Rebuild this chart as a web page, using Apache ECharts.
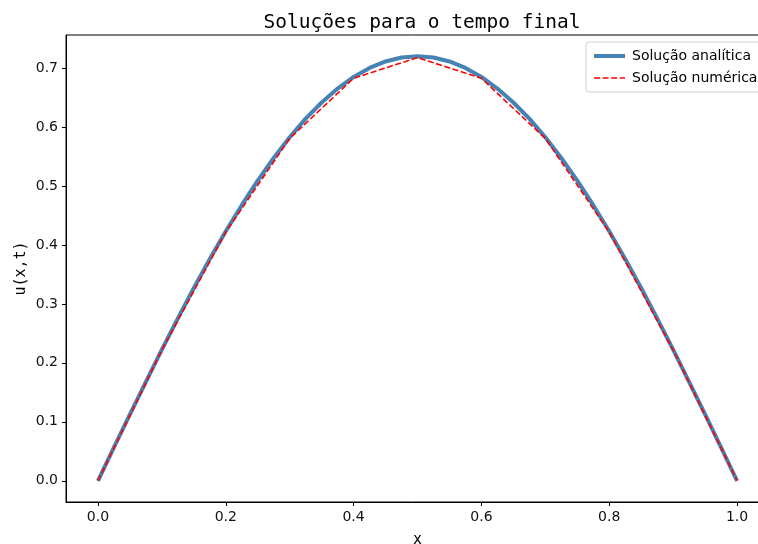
<!DOCTYPE html>
<html>
<head>
<meta charset="utf-8">
<script src="https://cdn.jsdelivr.net/npm/echarts@6/dist/echarts.min.js"></script>
<style>
  html, body { margin: 0; padding: 0; background: #fff; }
  #chart { width: 758px; height: 544px; }
</style>
</head>
<body>
<div id="chart"></div>
<script>
// Analytic solution sampled on a fine grid (x step 0.025)
const xFine = [0, 0.025, 0.05, 0.075, 0.1, 0.125, 0.15, 0.175, 0.2, 0.225, 0.25, 0.275, 0.3, 0.325, 0.35, 0.375, 0.4, 0.425, 0.45, 0.475, 0.5,
  0.525, 0.55, 0.575, 0.6, 0.625, 0.65, 0.675, 0.7, 0.725, 0.75, 0.775, 0.8, 0.825, 0.85, 0.875, 0.9, 0.925, 0.95, 0.975, 1.0];
const uAnalytic = [0, 0.0565, 0.1126, 0.1679, 0.2225, 0.2755, 0.3269, 0.3763, 0.4232, 0.4674, 0.5091, 0.5474, 0.5825, 0.6142, 0.6415, 0.6652, 0.6848, 0.7001, 0.7111, 0.7178, 0.72,
  0.7178, 0.7111, 0.7001, 0.6848, 0.6652, 0.6415, 0.6142, 0.5825, 0.5474, 0.5091, 0.4674, 0.4232, 0.3763, 0.3269, 0.2755, 0.2225, 0.1679, 0.1126, 0.0565, 0];

// Numerical solution on the coarse mesh (x step 0.1)
const xMesh = [0, 0.1, 0.2, 0.3, 0.4, 0.5, 0.6, 0.7, 0.8, 0.9, 1.0];
const uNumeric = [0, 0.2218, 0.4218, 0.5806, 0.6826, 0.7177, 0.6826, 0.5806, 0.4218, 0.2218, 0];

const xTicks = [0, 0.2, 0.4, 0.6, 0.8, 1.0];
const yTicks = [0, 0.1, 0.2, 0.3, 0.4, 0.5, 0.6, 0.7];

const seriesNames = ['Solução analítica', 'Solução numérica'];

const analyticLine = { color: '#4682b4', width: 4 };
const numericLine = { color: '#ff0000', width: 1.6, type: [6, 2.6] };

const chart = echarts.init(document.getElementById('chart'), null, { renderer: 'canvas' });

const axisCommon = {
  axisLine: { show: true, onZero: false, lineStyle: { color: '#000', width: 1 } },
  axisTick: { show: true, inside: false, length: 4, lineStyle: { color: '#000', width: 1 } },
  splitLine: { show: false },
  axisLabel: { color: '#111', fontFamily: 'DejaVu Sans', fontSize: 14, margin: 8 }
};

chart.setOption({
  animation: false,
  backgroundColor: '#fff',
  title: {
    text: 'Soluções para o tempo final',
    left: 417, top: 8, textAlign: 'center',
    textStyle: { fontFamily: 'DejaVu Sans Mono', fontSize: 19.5, fontWeight: 'normal', color: '#000' }
  },
  grid: {
    left: 66, top: 35, right: -11, bottom: 42,
    outerBoundsMode: 'none',
    containLabel: false,
    show: true, borderColor: '#000', borderWidth: 1, backgroundColor: 'transparent'
  },
  legend: {
    left: 586, top: 42,
    orient: 'vertical',
    itemWidth: 31, itemHeight: 2, itemGap: 8,
    padding: [7, 14, 7, 6],
    borderColor: '#d0d0d0', borderWidth: 1, borderRadius: 3,
    backgroundColor: 'rgba(255,255,255,0.85)',
    itemStyle: { opacity: 0 },
    textStyle: { fontFamily: 'DejaVu Sans', fontSize: 14, color: '#000', padding: [0, 0, 0, 2] },
    data: [
      { name: seriesNames[0], lineStyle: analyticLine },
      { name: seriesNames[1], lineStyle: numericLine }
    ]
  },
  xAxis: Object.assign({}, axisCommon, {
    type: 'value', min: -0.05, max: 1.05,
    name: 'x', nameLocation: 'middle', nameGap: 31, nameMoveOverlap: false,
    nameTextStyle: { fontFamily: 'DejaVu Sans Mono', fontSize: 15, color: '#000' },
    axisTick: Object.assign({}, axisCommon.axisTick, { customValues: xTicks }),
    axisLabel: Object.assign({}, axisCommon.axisLabel, {
      customValues: xTicks, formatter: v => v.toFixed(1)
    })
  }),
  yAxis: Object.assign({}, axisCommon, {
    type: 'value', min: -0.036, max: 0.756,
    name: 'u(x,t)', nameLocation: 'middle', nameGap: 37, nameRotate: 90, nameMoveOverlap: false,
    nameTextStyle: { fontFamily: 'DejaVu Sans Mono', fontSize: 15, color: '#000' },
    axisTick: Object.assign({}, axisCommon.axisTick, { customValues: yTicks }),
    axisLabel: Object.assign({}, axisCommon.axisLabel, {
      customValues: yTicks, formatter: v => v.toFixed(1)
    })
  }),
  series: [
    {
      name: seriesNames[0], type: 'line',
      data: xFine.map((x, i) => [x, uAnalytic[i]]),
      showSymbol: false, symbol: 'none', smooth: false,
      lineStyle: analyticLine,
      itemStyle: { color: analyticLine.color },
      z: 2
    },
    {
      name: seriesNames[1], type: 'line',
      data: xMesh.map((x, i) => [x, uNumeric[i]]),
      showSymbol: false, symbol: 'none',
      lineStyle: numericLine,
      itemStyle: { color: numericLine.color },
      z: 3
    }
  ]
});
</script>
</body>
</html>
